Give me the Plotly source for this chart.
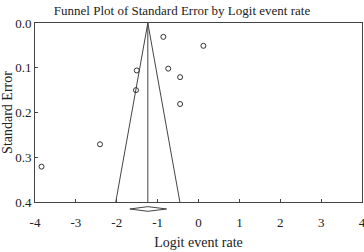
import plotly.graph_objects as go

# Study points (logit event rate, standard error)
logit = [-0.86, 0.12, -1.51, -0.74, -0.45, -1.53, -0.45, -2.41, -3.84]
se = [0.031, 0.051, 0.106, 0.102, 0.121, 0.150, 0.181, 0.271, 0.321]

pooled = -1.24
se_max = 0.4
ci_low, ci_high = -1.68, -0.78

xticks = [-4, -3, -2, -1, 0, 1, 2, 3, 4]
yticks = [0.0, 0.1, 0.2, 0.3, 0.4]

line_col = "#444444"
font = dict(family="Liberation Serif, Times New Roman, serif", size=12, color="#222222")

fig = go.Figure()
# funnel
fig.add_trace(go.Scatter(
    x=[pooled - 1.96 * se_max, pooled, pooled + 1.96 * se_max],
    y=[se_max, 0, se_max], mode="lines",
    line=dict(color=line_col, width=1), hoverinfo="skip"))
# center line
fig.add_trace(go.Scatter(x=[pooled, pooled], y=[0, se_max], mode="lines",
                         line=dict(color=line_col, width=1), hoverinfo="skip"))
# points
fig.add_trace(go.Scatter(x=logit, y=se, mode="markers",
                         marker=dict(symbol="circle-open", size=5, color="#333333",
                                     line=dict(width=1, color="#333333"))))

# summary diamond drawn just below the x axis (x in data units, y in axis-domain units)
dy, dh = -0.039, 0.013
fig.add_shape(type="path", xref="x", yref="y domain",
              path=f"M {ci_low},{dy} L {pooled},{dy + dh} L {ci_high},{dy} L {pooled},{dy - dh} Z",
              line=dict(color=line_col, width=1), fillcolor="white")

fig.update_layout(
    width=364, height=252,
    margin=dict(l=35, r=2, t=23, b=50),
    paper_bgcolor="white", plot_bgcolor="white",
    showlegend=False, font=font,
    title=dict(text="Funnel Plot of Standard Error by Logit event rate",
               x=0.5, xanchor="center", y=0.958, yanchor="middle",
               font=dict(size=13), automargin=False),
)
fig.update_xaxes(range=[-4, 4], tickvals=xticks, ticktext=[str(v) for v in xticks],
                 showgrid=False, zeroline=False, showline=True, mirror=True,
                 linecolor=line_col, linewidth=1, ticks="inside", ticklen=3,
                 tickcolor=line_col, automargin=False, tickfont=dict(size=13),
                 ticklabeloverflow="allow", ticklabelstandoff=8,
                 title=dict(text="Logit event rate", standoff=8))
fig.update_yaxes(range=[0.4, 0.0], tickvals=yticks, ticktext=["%.1f" % v for v in yticks],
                 showgrid=False, zeroline=False, showline=True, mirror=True,
                 linecolor=line_col, linewidth=1, ticks="inside", ticklen=3,
                 tickcolor=line_col, automargin=False, tickfont=dict(size=13),
                 title=dict(text="Standard Error", standoff=2))

fig.write_html("out.html", config={"displayModeBar": False},
               post_script="document.body.style.margin='0';document.body.style.overflow='hidden';")
